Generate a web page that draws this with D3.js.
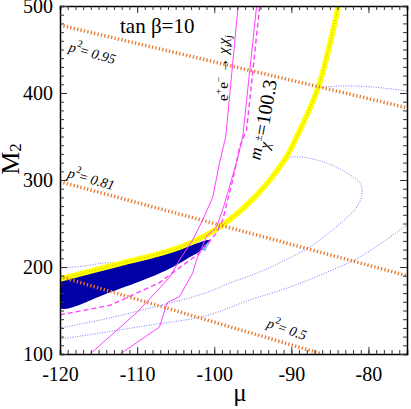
<!DOCTYPE html>
<html>
<head>
<meta charset="utf-8">
<script src="https://cdn.jsdelivr.net/npm/d3@7"></script>
<style>
  body { margin: 0; background: #fff; }
  svg { display: block; font-family: "Liberation Serif", "Times New Roman", serif; }
</style>
</head>
<body>
<div id="root"></div>
<script>
// axis ticks
const xTicks = [-120, -110, -100, -90, -80];
const yTicks = [100, 200, 300, 400, 500];

// yellow band (mu, M2)
const yellowU = [-120, -113.1, -104.4, -99.3, -94.6, -90.8, -89.5, -86.5, -83.9];
const yellowM2 = [186, 202, 223, 246, 281.6, 324, 346, 407, 500];

// dark blue allowed region
const bandTopU = [-120, -113, -107, -103, -100.5];
const bandTopM2 = [184, 200, 213, 225, 231];
const bandBotU = [-101.2, -103.6, -107, -113.5, -120];
const bandBotM2 = [222, 209, 193, 171, 153];
const tipU = [-101.6, -100.5, -101.2];
const tipM2 = [221.8, 231, 217.2];

// light blue dotted contours
const loopU = [-120, -116.8, -114.4, -113.1, -111.8, -104.4, -99.3, -94.6, -90.8, -88.9, -85.4, -82.8, -81.1, -80.8, -81.5, -82.7, -85.0, -87.6, -90.8, -94.1, -98.0, -101.2, -108.3, -114.8, -120];
const loopM2 = [198.9, 201.1, 204.6, 204.6, 203.4, 223, 246, 281.6, 324, 326.4, 319.5, 308, 296.6, 285, 269, 257.5, 240.2, 223, 208, 194.3, 181.6, 170, 152.9, 139, 129.9];
const lowU = [-120, -114.8, -108.3, -101.2, -95.4, -90.2, -85.0, -81.1, -75];
const lowM2 = [117.2, 124.1, 133.3, 143.7, 162, 177, 195.4, 211.5, 248.3];
const highU = [-86.8, -83.9, -79.5, -75];
const highM2 = [405.7, 408, 406.9, 402.3];

// magenta lines
const chiLeftU = [-116.1, -110.0, -105.8, -104.5, -102.8, -101.5, -100.2, -99.3, -98.5, -96.9];
const chiLeftM2 = [100, 148, 188, 208, 231, 254, 280, 320, 350, 500];
const chiRightU = [-112.2, -107.1, -106.1, -104.5, -102.8, -102.3, -101.0, -99.7, -98.9, -97.1, -96.3, -94.5];
const chiRightM2 = [100, 131, 159, 166, 193, 208, 235, 246, 266, 320, 350, 500];
const massU = [-120, -113.5, -107.1, -103.6, -101.9, -99.7, -98.9, -97.6, -96.7, -95.8, -94.1];
const massM2 = [145, 156, 182, 205, 216, 239, 254, 300, 338, 358, 500];

// p^2 contours
const p2Labels = ["0.95", "0.81", "0.5"];
const p2U = [[-120, -75], [-120, -75], [-120, -86]];
const p2M2 = [[478, 383], [298, 190], [189, 100]];

const width = 411;
const height = 409;
const margin = { top: 6, right: 4, bottom: 55, left: 60 };
const innerWidth = width - margin.left - margin.right;
const innerHeight = height - margin.top - margin.bottom;

const xScale = d3.scaleLinear().domain([-120, -75]).range([0, innerWidth]);
const yScale = d3.scaleLinear().domain([100, 500]).range([innerHeight, 0]);

const line = d3
  .line()
  .x((d) => xScale(d[0]))
  .y((d) => yScale(d[1]))
  .curve(d3.curveCatmullRom);

const svg = d3
  .select("#root")
  .append("svg")
  .attr("width", width)
  .attr("height", height)
  .attr("viewBox", `0 0 ${width} ${height}`);

svg
  .append("clipPath")
  .attr("id", "clip")
  .append("rect")
  .attr("width", innerWidth)
  .attr("height", innerHeight);

const innerChart = svg
  .append("g")
  .attr("transform", `translate(${margin.left}, ${margin.top})`);

const plot = innerChart.append("g").attr("clip-path", "url(#clip)");

// blue region
const bandPts = d3.zip(bandTopU, bandTopM2).concat(d3.zip(bandBotU, bandBotM2));
plot
  .append("path")
  .attr("d", line.curve(d3.curveCatmullRomClosed)(bandPts))
  .attr("fill", "#0000a6");
line.curve(d3.curveCatmullRom);

plot
  .append("path")
  .attr("d", d3.line().x((d) => xScale(d[0])).y((d) => yScale(d[1]))(d3.zip(tipU, tipM2)) + "Z")
  .attr("fill", "#7cc4ff");

// dotted contours
[
  [loopU, loopM2],
  [lowU, lowM2],
  [highU, highM2],
].forEach(([u, m]) => {
  plot
    .append("path")
    .attr("d", line(d3.zip(u, m)))
    .attr("fill", "none")
    .attr("stroke", "#7a7aff")
    .attr("stroke-width", 1)
    .attr("stroke-dasharray", "1,1.5");
});

// yellow band
const yellowPts = d3.zip(yellowU, yellowM2);
plot
  .append("path")
  .attr("d", line(yellowPts))
  .attr("fill", "none")
  .attr("stroke", "#ffff00")
  .attr("stroke-width", 5.5);
plot
  .append("path")
  .attr("d", line(yellowPts))
  .attr("fill", "none")
  .attr("stroke", "#8a8a00")
  .attr("stroke-width", 1)
  .attr("stroke-opacity", 0.6)
  .attr("stroke-dasharray", "1,2");

// p^2 lines
p2Labels.forEach((lab, i) => {
  plot
    .append("path")
    .attr("d", line(d3.zip(p2U[i], p2M2[i])))
    .attr("fill", "none")
    .attr("stroke", "#e8782c")
    .attr("stroke-width", 3.5)
    .attr("stroke-dasharray", "1.3,2.2");
});

// magenta lines
[
  [chiLeftU, chiLeftM2, null],
  [chiRightU, chiRightM2, null],
  [massU, massM2, "5,3"],
].forEach(([u, m, dash]) => {
  plot
    .append("path")
    .attr("d", line.curve(d3.curveLinear)(d3.zip(u, m)))
    .attr("fill", "none")
    .attr("stroke", "#ff40ff")
    .attr("stroke-width", dash ? 1.4 : 1)
    .attr("stroke-dasharray", dash);
});

// axes
const minorX = d3.range(-120, -74, 1);
const minorY = d3.range(100, 501, 10);

function styleAxis(g) {
  g.attr("font-family", "Liberation Serif, serif").attr("font-size", 20);
  g.select(".domain").attr("stroke-width", 1.5);
  g.selectAll(".tick line").attr("stroke", "#333");
  g.selectAll("text").attr("fill", "#000");
  g.selectAll("text").filter((d, i, n) => n[i].textContent === "").remove();
}

const fmt = (d) => String(d);

innerChart
  .append("g")
  .attr("transform", `translate(0, ${innerHeight})`)
  .call(d3.axisBottom(xScale).tickValues(minorX).tickSize(-4).tickFormat(""))
  .call(styleAxis);
innerChart
  .append("g")
  .attr("transform", `translate(0, ${innerHeight})`)
  .call(d3.axisBottom(xScale).tickValues(xTicks).tickSize(-7).tickPadding(13).tickFormat(fmt))
  .call(styleAxis)
  .call((g) => g.select(".domain").remove());

innerChart
  .append("g")
  .call(d3.axisTop(xScale).tickValues(minorX).tickSize(-4).tickFormat(""))
  .call(styleAxis);
innerChart
  .append("g")
  .call(d3.axisTop(xScale).tickValues(xTicks).tickSize(-7).tickFormat(""))
  .call(styleAxis)
  .call((g) => g.select(".domain").remove());

innerChart
  .append("g")
  .call(d3.axisLeft(yScale).tickValues(minorY).tickSize(-4).tickFormat(""))
  .call(styleAxis);
innerChart
  .append("g")
  .call(d3.axisLeft(yScale).tickValues(yTicks).tickSize(-7).tickPadding(7).tickFormat(fmt))
  .call(styleAxis)
  .call((g) => g.select(".domain").remove());

innerChart
  .append("g")
  .attr("transform", `translate(${innerWidth}, 0)`)
  .call(d3.axisRight(yScale).tickValues(minorY).tickSize(-4).tickFormat(""))
  .call(styleAxis);
innerChart
  .append("g")
  .attr("transform", `translate(${innerWidth}, 0)`)
  .call(d3.axisRight(yScale).tickValues(yTicks).tickSize(-7).tickFormat(""))
  .call(styleAxis)
  .call((g) => g.select(".domain").remove());

// axis titles
svg
  .append("text")
  .attr("transform", "translate(19, 159) rotate(-90)")
  .attr("text-anchor", "middle")
  .style("font-size", "26px")
  .text("M")
  .append("tspan")
  .attr("dy", 2)
  .style("font-size", "17px")
  .text("2");

svg
  .append("text")
  .attr("x", 240)
  .attr("y", 401)
  .attr("text-anchor", "middle")
  .style("font-size", "25px")
  .text("μ");

svg
  .append("text")
  .attr("x", 120)
  .attr("y", 33)
  .style("font-size", "21px")
  .text("tan β=10");

// process label
const proc = svg
  .append("text")
  .attr("transform", "translate(228, 101) rotate(-90)")
  .style("font-size", "15px");
proc.append("tspan").text("e");
proc.append("tspan").attr("dy", -6).style("font-size", "10px").text("+");
proc.append("tspan").attr("dy", 6).text("e");
proc.append("tspan").attr("dy", -6).style("font-size", "10px").text("−");
proc.append("tspan").attr("dy", 6).text(" → ");
proc.append("tspan").style("font-style", "italic").text("χ");
proc.append("tspan").attr("dy", 4).style("font-size", "10px").style("font-style", "italic").text("i");
proc.append("tspan").attr("dy", -4).style("font-style", "italic").text("χ");
proc.append("tspan").attr("dy", 4).style("font-size", "10px").style("font-style", "italic").text("j");

// chargino mass label
const mass = svg
  .append("text")
  .attr("transform", "translate(263, 161) rotate(-80)")
  .style("font-size", "20px");
mass.append("tspan").attr("dy", -3).style("font-size", "17px").style("font-style", "italic").text("m");
mass.append("tspan").attr("dy", 7).style("font-size", "15px").style("font-style", "italic").text("χ");
mass.append("tspan").attr("dy", -9).style("font-size", "11px").text("±");
mass.append("tspan").attr("dy", 5).text("=100.3");

// p^2 labels
const p2Pos = [
  [68, 51, 16],
  [67, 177, 16],
  [266, 327, 19],
];
p2Labels.forEach((lab, i) => {
  const [px, py, rot] = p2Pos[i];
  const t = svg
    .append("text")
    .attr("transform", `translate(${px}, ${py}) rotate(${rot})`)
    .style("font-size", "14px")
    .style("font-style", "italic");
  t.append("tspan").text("p");
  t.append("tspan").attr("dy", -7).style("font-size", "10px").style("font-style", "normal").text("2");
  t.append("tspan").attr("dy", 7).style("font-style", "normal").text("= ");
  t.append("tspan").text(lab);
});
</script>
</body>
</html>
